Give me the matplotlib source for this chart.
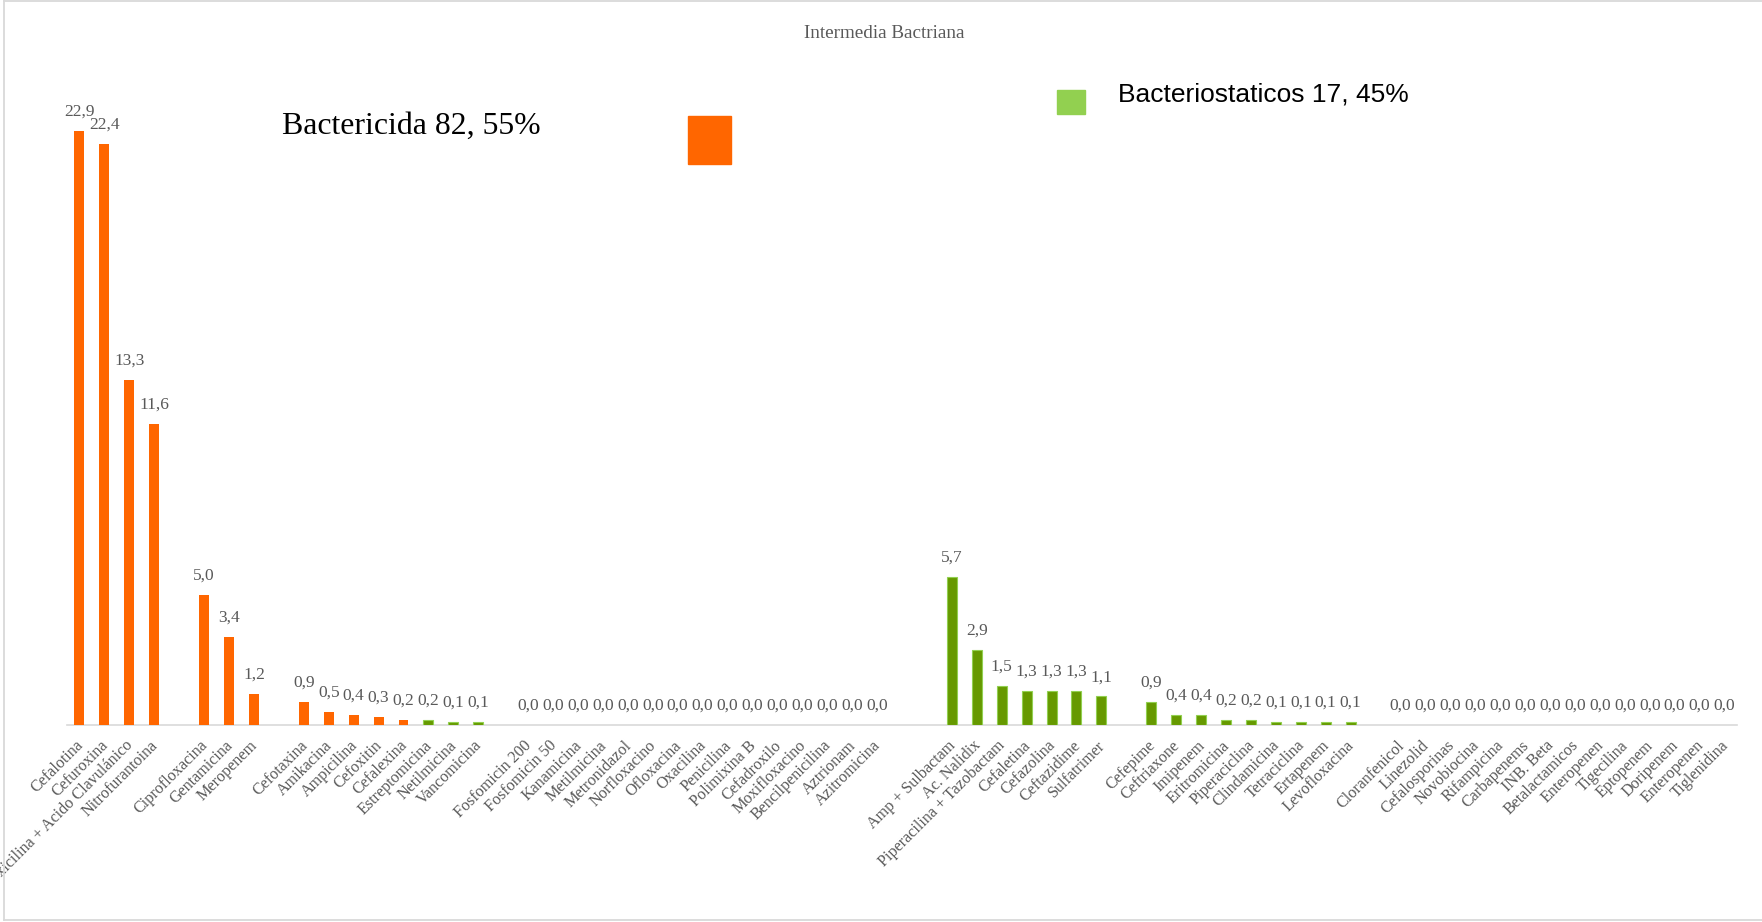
"""Bar chart: intermedia bactriana por antibiotico."""

import numpy as np
import matplotlib
matplotlib.use("Agg")
import matplotlib.pyplot as plt
from matplotlib.lines import Line2D
from matplotlib.patches import Rectangle
from matplotlib.transforms import ScaledTranslation

# Antibiotics in plotting order; "" leaves an empty slot between groups
labels = [
    "Cefalotina", "Cefuroxina", "Amoxicilina + Acido Clavulánico", "Nitrofurantoina", "",
    "Ciprofloxacina", "Gentamicina", "Meropenem", "",
    "Cefotaxina", "Amikacina", "Ampicilina", "Cefoxitin", "Cefalexina",
    "Estreptomicina", "Netilmicina", "Vancomicina", "",
    "Fosfomicin 200", "Fosfomicin 50", "Kanamicina", "Metilmicina", "Metronidazol",
    "Norfloxacino", "Ofloxacina", "Oxacilina", "Penicilina", "Polimixina B",
    "Cefadroxilo", "Moxifloxacino", "Bencilpenicilina", "Aztrionam", "Azitromicina", "", "",
    "Amp + Sulbactam", "Ac. Nalidix", "Piperacilina + Tazobactam", "Cefaletina",
    "Cefazolina", "Ceftazidime", "Sulfatrimer", "",
    "Cefepime", "Ceftriaxone", "Imipenem", "Eritromicina", "Piperaciclina",
    "Clindamicina", "Tetraciclina", "Ertapenem", "Levofloxacina", "",
    "Cloranfenicol", "Linezolid", "Cefalosporinas", "Novobiocina", "Rifampicina",
    "Carbapenems", "INB. Beta", "Betalactamicos", "Enteropenen", "Tigecilina",
    "Eptopenem", "Doripenem", "Enteropenen", "Tiglenidina",
]

values = [
    22.9, 22.4, 13.3, 11.6, None,
    5.0, 3.4, 1.2, None,
    0.9, 0.5, 0.4, 0.3, 0.2,
    0.2, 0.1, 0.1, None,
    0.0, 0.0, 0.0, 0.0, 0.0,
    0.0, 0.0, 0.0, 0.0, 0.0,
    0.0, 0.0, 0.0, 0.0, 0.0, None, None,
    5.7, 2.9, 1.5, 1.3,
    1.3, 1.3, 1.1, None,
    0.9, 0.4, 0.4, 0.2, 0.2,
    0.1, 0.1, 0.1, 0.1, None,
    0.0, 0.0, 0.0, 0.0, 0.0,
    0.0, 0.0, 0.0, 0.0, 0.0,
    0.0, 0.0, 0.0, 0.0,
]

bacteriostaticos = {
    "Estreptomicina", "Netilmicina", "Vancomicina",
    "Amp + Sulbactam", "Ac. Nalidix", "Piperacilina + Tazobactam", "Cefaletina",
    "Cefazolina", "Ceftazidime", "Sulfatrimer",
    "Cefepime", "Ceftriaxone", "Imipenem", "Eritromicina", "Piperaciclina",
    "Clindamicina", "Tetraciclina", "Ertapenem", "Levofloxacina",
    "Cloranfenicol", "Linezolid", "Cefalosporinas", "Novobiocina", "Rifampicina",
    "Carbapenems", "INB. Beta", "Betalactamicos", "Enteropenen", "Tigecilina",
    "Eptopenem", "Doripenem", "Tiglenidina",
}

titulo = "Intermedia Bactriana"
leyenda_bactericida = "Bactericida 82, 55%"
leyenda_bacteriostatico = "Bacteriostaticos 17, 45%"

ORANGE = "#FF6600"
GREEN = "#669900"
GREEN_EDGE = "#92D050"
TEXT_GRAY = "#595959"
LINE_GRAY = "#D9D9D9"
SERIF = ["Liberation Serif", "DejaVu Serif"]

W, H = 1762, 922
fig = plt.figure(figsize=(W / 100, H / 100), dpi=100)
ax = fig.add_axes([67 / W, 197 / H, 1670 / W, 648.75 / H])

x = np.arange(len(labels))
idx = [i for i, v in enumerate(values) if v is not None]
heights = [values[i] for i in idx]
colors = [GREEN if labels[i] in bacteriostaticos else ORANGE for i in idx]
edges = [GREEN_EDGE if (labels[i] in bacteriostaticos and values[i] > 0) else "none" for i in idx]

ax.bar(idx, heights, width=0.4, color=colors, edgecolor=edges, linewidth=0.8, zorder=3)

# value labels with decimal comma
for i, v in zip(idx, heights):
    ax.annotate(f"{v:.1f}".replace(".", ","), (i, v), xytext=(0, 11),
                textcoords="offset points", ha="center", va="baseline",
                fontsize=12.5, family=SERIF, color=TEXT_GRAY)

ax.set_xlim(-0.5, len(labels) - 0.5)
ax.set_ylim(0, 25)
ax.set_xticks(x)
ax.set_xticklabels(labels, rotation=45, ha="right", fontsize=11.6,
                   family=SERIF, color=TEXT_GRAY)
ax.tick_params(axis="x", length=0, pad=9)
shift = ScaledTranslation(7 / 100, 0, fig.dpi_scale_trans)
for lab in ax.get_xticklabels():
    lab.set_transform(lab.get_transform() + shift)
ax.set_yticks([])
for side in ("left", "right", "top"):
    ax.spines[side].set_visible(False)
ax.spines["bottom"].set_color(LINE_GRAY)
ax.spines["bottom"].set_linewidth(1.2)
ax.patch.set_visible(False)

# title and the two legend texts
fig.text(884 / W, 1 - 33 / H, titulo, ha="center", va="center",
         fontsize=13.8, family=SERIF, color=TEXT_GRAY)
fig.text(282 / W, 1 - 134 / H, leyenda_bactericida, ha="left", va="baseline",
         fontsize=22.9, family=SERIF, color="black")
fig.add_artist(Rectangle((688 / W, 1 - 164 / H), 43 / W, 48 / H,
                         transform=fig.transFigure, color=ORANGE))
fig.add_artist(Rectangle((1057 / W, 1 - 114 / H), 28 / W, 24 / H,
                         transform=fig.transFigure, color=GREEN_EDGE))
fig.text(1118 / W, 1 - 101.7 / H, leyenda_bacteriostatico, ha="left", va="baseline",
         fontsize=19, family=["Liberation Sans", "DejaVu Sans"], color="black")

# chart frame
for xs, ys in (([3.5, 3.5], [1, 920]), ([3.5, W], [1, 1]), ([3.5, W], [920, 920])):
    fig.add_artist(Line2D([v / W for v in xs], [1 - v / H for v in ys],
                          transform=fig.transFigure, color=LINE_GRAY, lw=1.3))

fig.savefig("out.png", dpi=100)
